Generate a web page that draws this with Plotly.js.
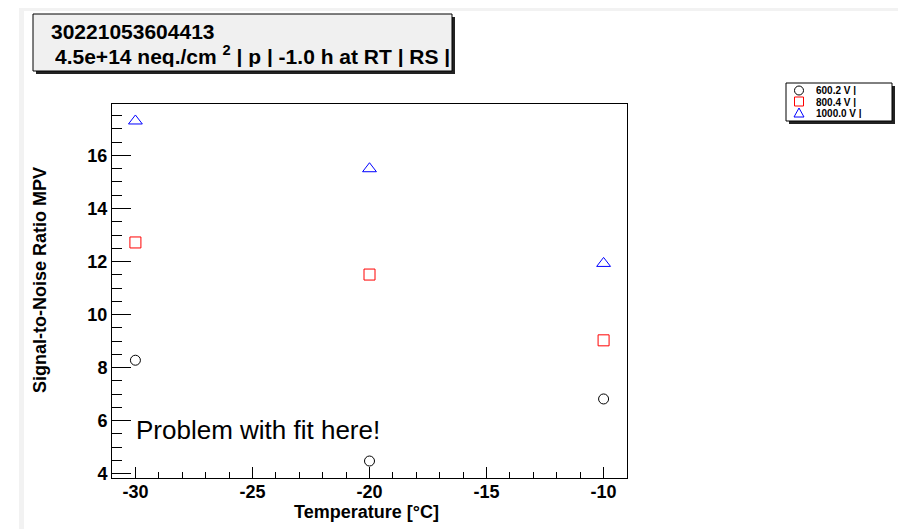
<!DOCTYPE html>
<html><head><meta charset="utf-8">
<script src="https://cdn.plot.ly/plotly-3.0.1.min.js"></script>
<style>
html,body{margin:0;padding:0;background:#fff;}
#bg{position:absolute;left:19px;top:8px;width:879px;height:521px;border-top:3px solid #f2f2f2;border-left:5px solid #f2f2f2;box-sizing:border-box;}
#plot{position:absolute;left:0;top:0;width:898px;height:529px;}
</style></head>
<body><div id="bg"></div><div id="plot"></div>
<script>
const temperatures = [-30, -20, -10];
const snr600 = [8.28, 4.48, 6.82];
const snr800 = [12.72, 11.51, 9.03];
const snr1000 = [17.30, 15.50, 11.93];
const seriesNames = ['600.2 V |', '800.4 V |', '1000.0 V |'];
const xTickVals = [-30, -25, -20, -15, -10];
const xTickText = ['-30', '-25', '-20', '-15', '-10'];
const yTickVals = [4, 6, 8, 10, 12, 14, 16];
const yTickText = ['4', '6', '8', '10', '12', '14', '16'];
const titleLine1 = '30221053604413';
const titleLine2 = '4.5e+14 neq./cm <sup>2</sup> | p | -1.0 h at RT | RS |';
const noteText = 'Problem with fit here!';
const xTitle = 'Temperature [°C]';
const yTitle = 'Signal-to-Noise Ratio MPV';

const W = 898, H = 529, L = 112, R = 271, T = 104, B = 51;
const pw = W - L - R, ph = H - T - B;
const px = x => (x - L) / pw;
const py = y => (H - B - y) / ph;

const font = 'Liberation Sans, Arial, Helvetica, sans-serif';

const traces = [
  {x: temperatures, y: snr600, name: seriesNames[0], mode: 'markers', type: 'scatter',
   marker: {symbol: 'circle-open', size: 10, color: '#000', line: {width: 1, color: '#000'}}},
  {x: temperatures, y: snr800, name: seriesNames[1], mode: 'markers', type: 'scatter',
   marker: {symbol: 'square-open', size: 11, color: '#ff0000', line: {width: 1, color: '#ff0000'}}},
  {x: temperatures, y: snr1000, name: seriesNames[2], mode: 'markers', type: 'scatter',
   marker: {symbol: 'triangle-up-open', size: 12, color: '#0000ff', line: {width: 1, color: '#0000ff'}}}
];

const legColors = ['#000', '#ff0000', '#0000ff'];
const legY = [90.5, 101.5, 113];
const lx = 799, r = 4.5;

const shapes = [
  {type:'rect', xref:'paper', yref:'paper', x0:px(36), x1:px(455), y0:py(74), y1:py(17), fillcolor:'#222', line:{width:0}, layer:'above'},
  {type:'rect', xref:'paper', yref:'paper', x0:px(33), x1:px(452), y0:py(71), y1:py(14), fillcolor:'#f0f0f0', line:{width:1, color:'#000'}, layer:'above'},
  {type:'rect', xref:'paper', yref:'paper', x0:px(789), x1:px(895), y0:py(124), y1:py(86), fillcolor:'#222', line:{width:0}, layer:'above'},
  {type:'rect', xref:'paper', yref:'paper', x0:px(786), x1:px(892), y0:py(121), y1:py(83), fillcolor:'#fff', line:{width:1, color:'#000'}, layer:'above'},
  // legend keys
  {type:'circle', xref:'paper', yref:'paper', x0:px(lx - r), x1:px(lx + r), y0:py(legY[0] + r), y1:py(legY[0] - r),
   line:{width:1, color:legColors[0]}, layer:'above'},
  {type:'rect', xref:'paper', yref:'paper', x0:px(lx - r), x1:px(lx + r), y0:py(legY[1] + r), y1:py(legY[1] - r),
   line:{width:1, color:legColors[1]}, layer:'above'},
  {type:'path', xref:'paper', yref:'paper', layer:'above', line:{width:1, color:legColors[2]},
   path:'M ' + px(lx) + ' ' + py(legY[2] - 5) + ' L ' + px(lx - 5) + ' ' + py(legY[2] + 4) + ' L ' + px(lx + 5) + ' ' + py(legY[2] + 4) + ' Z'}
];

const annotations = [
  {xref:'paper', yref:'paper', x:px(49), y:py(31), xanchor:'left', yanchor:'middle', showarrow:false,
   width: 390, height: 22, align: 'left',
   text:'<b>' + titleLine1 + '</b>', font:{family:font, size:21, color:'#000'}},
  {xref:'paper', yref:'paper', x:px(53), y:py(55), xanchor:'left', yanchor:'middle', showarrow:false,
   width: 396, height: 24, align: 'left',
   text:'<b>' + titleLine2 + '</b>', font:{family:font, size:21, color:'#000'}},
  {xref:'x', yref:'y', x:-30, y:5.65, xanchor:'left', yanchor:'middle', xshift:-1, showarrow:false,
   text: noteText, font:{family:font, size:26, color:'#000'}},
  {xref:'paper', yref:'paper', x:px(366), y:py(512), xanchor:'center', yanchor:'middle', showarrow:false,
   text:'<b>' + xTitle + '</b>', font:{family:font, size:18, color:'#000'}},
  {xref:'paper', yref:'paper', x:px(40), y:py(280), xanchor:'center', yanchor:'middle', showarrow:false, textangle:-90,
   text:'<b>' + yTitle + '</b>', font:{family:font, size:18, color:'#000'}}
];
for (let i = 0; i < 3; i++) {
  annotations.push({xref:'paper', yref:'paper', x:px(814), y:py(legY[i]), xanchor:'left', yanchor:'middle', showarrow:false,
    height: 10, text: '<b>' + seriesNames[i] + '</b>', font:{family:font, size:10, color:'#000'}});
}

const layout = {
  width: W, height: H,
  margin: {l: L, r: R, t: T, b: B, pad: 0},
  paper_bgcolor: 'rgba(0,0,0,0)', plot_bgcolor: '#fff',
  showlegend: false,
  font: {family: font, color: '#000'},
  xaxis: {
    range: [-31, -9], tickmode: 'array', tickvals: xTickVals, ticktext: xTickText,
    ticks: 'inside', ticklen: 11, tickwidth: 1, tickcolor: '#000', ticklabelstandoff: -3,
    minor: {tickmode: 'linear', tick0: -30, dtick: 1, ticks: 'inside', ticklen: 6, tickcolor: '#000', showgrid: false},
    showline: true, linecolor: '#000', linewidth: 1, mirror: true,
    showgrid: false, zeroline: false,
    tickfont: {family: font, size: 18, color: '#000', weight: 'bold'}
  },
  yaxis: {
    range: [3.84, 17.94], tickmode: 'array', tickvals: yTickVals, ticktext: yTickText,
    ticks: 'inside', ticklen: 19, tickwidth: 1, tickcolor: '#000',
    minor: {tickmode: 'linear', tick0: 4, dtick: 0.5, ticks: 'inside', ticklen: 10, tickcolor: '#000', showgrid: false},
    showline: true, linecolor: '#000', linewidth: 1, mirror: true,
    showgrid: false, zeroline: false,
    tickfont: {family: font, size: 18, color: '#000', weight: 'bold'}
  },
  shapes: shapes,
  annotations: annotations
};

Plotly.newPlot('plot', traces, layout, {displayModeBar: false, staticPlot: true});
</script>
</body></html>
